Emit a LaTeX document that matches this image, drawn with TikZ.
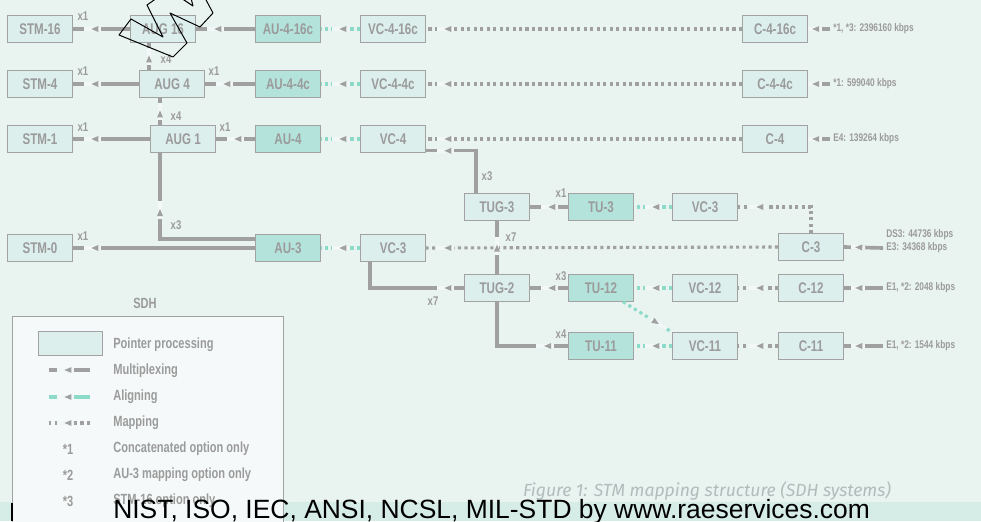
\documentclass[tikz,border=0pt]{standalone}
\usepackage{fontspec}
\usetikzlibrary{arrows.meta,positioning,calc,decorations.markings}
\newfontfamily\condfont[FakeStretch=0.75]{Liberation Sans}
\newfontfamily\capfont{Fira Sans}
\newfontfamily\bandfont{Liberation Sans}
\definecolor{bgcol}{RGB}{233,244,241}
\definecolor{boxfill}{RGB}{220,239,236}
\definecolor{ptrfill}{RGB}{180,227,219}
\definecolor{boxline}{RGB}{162,162,162}
\definecolor{txtgray}{RGB}{155,155,155}
\definecolor{linegray}{RGB}{160,160,160}
\definecolor{tealline}{RGB}{140,218,200}
\definecolor{gapcol}{RGB}{242,248,247}
\definecolor{keyfill}{RGB}{246,249,249}
\definecolor{bandcol}{RGB}{214,236,231}
\definecolor{capgray}{RGB}{178,188,188}
\newcommand\nodefont{\condfont\bfseries\fontsize{11}{13}\selectfont}
\newcommand\multfont{\condfont\bfseries\fontsize{9}{10}\selectfont}
\newcommand\ratefont{\condfont\bfseries\fontsize{7.9}{9}\selectfont}
\newcommand\keyfont{\condfont\bfseries\fontsize{10.5}{12}\selectfont}
\newcommand\tipmark{%
  \fill[gapcol] (-7pt,-1.3pt) rectangle (5.5pt,1.3pt);
  \fill[linegray] (0pt,0pt) -- (-5pt,2.1pt) -- (-5pt,-2.1pt) -- cycle;}
\newcommand\intipmark{%
  \fill[gapcol] (-7pt,-1.5pt) rectangle (2.9pt,1.5pt);
  \fill[linegray] (0pt,0pt) -- (-5pt,2.1pt) -- (-5pt,-2.1pt) -- cycle;}

\begin{document}
\begin{tikzpicture}[
  x=0.025cm, y=-0.025cm,
  box/.style={rectangle, draw=boxline, fill=boxfill, line width=0.8pt,
              minimum width=1.62cm, minimum height=0.66cm, inner sep=0pt,
              font=\nodefont, text=txtgray},
  ptrbox/.style={box, fill=ptrfill},
  mult/.style={font=\multfont, text=txtgray, inner sep=0pt},
  rate/.style={font=\ratefont, text=txtgray, anchor=west, inner sep=0pt},
  keytext/.style={font=\keyfont, text=txtgray, anchor=west, inner sep=0pt},
  mux/.style={draw=linegray, line width=2.2pt,
              postaction={decorate, decoration={markings,
                mark=at position #1 with {\tipmark}}}},
  mux/.default=-13pt,
  feed/.style={draw=linegray, line width=2.6pt,
              postaction={decorate, decoration={markings,
                mark=at position #1 with {\intipmark}}}},
  feed/.default=-3pt,
  aligning/.style={draw=tealline, line width=2.2pt, dash pattern=on 2.2pt off 2.4pt,
              postaction={decorate, decoration={markings,
                mark=at position #1 with {\tipmark}}}},
  aligning/.default=-13pt,
  mapping/.style={draw=linegray, line width=2.2pt, dash pattern=on 2.2pt off 2.4pt,
              postaction={decorate, decoration={markings,
                mark=at position #1 with {\tipmark}}}},
  mapping/.default=-13pt,
]
  \fill[bgcol] (0,0) rectangle (981,521);
  \useasboundingbox (0,0) rectangle (981,521);

  % ===== STM-N rows =====
  \node[box] (stm16) at (40,29)  {STM-16};
  \node[box] (aug16) at (163,29) {AUG 16};
  \node[ptrbox] (au416) at (288,29) {AU-4-16c};
  \node[box] (vc416) at (393,29) {VC-4-16c};
  \node[box] (c416)  at (775,29) {C-4-16c};

  \node[box] (stm4) at (40,84)  {STM-4};
  \node[box] (aug4) at (172,84) {AUG 4};
  \node[ptrbox] (au44) at (288,84) {AU-4-4c};
  \node[box] (vc44) at (393,84) {VC-4-4c};
  \node[box] (c44)  at (775,84) {C-4-4c};

  \node[box] (stm1) at (40,139)  {STM-1};
  \node[box] (aug1) at (183,139) {AUG 1};
  \node[ptrbox] (au4) at (288,139) {AU-4};
  \node[box] (vc4) at (393,139) {VC-4};
  \node[box] (c4)  at (775,139) {C-4};

  % ===== tributary part =====
  \node[box] (tug3) at (497,207) {TUG-3};
  \node[ptrbox] (tu3) at (601,207) {TU-3};
  \node[box] (vc3b) at (705,207) {VC-3};

  \node[box] (stm0) at (40,248)  {STM-0};
  \node[ptrbox] (au3) at (288,248) {AU-3};
  \node[box] (vc3a) at (393,248) {VC-3};
  \node[box] (c3)  at (811,247) {C-3};

  \node[box] (tug2) at (497,288) {TUG-2};
  \node[ptrbox] (tu12) at (601,288) {TU-12};
  \node[box] (vc12) at (705,288) {VC-12};
  \node[box] (c12)  at (811,288) {C-12};

  \node[ptrbox] (tu11) at (601,346) {TU-11};
  \node[box] (vc11) at (705,346) {VC-11};
  \node[box] (c11)  at (811,346) {C-11};

  % ===== input rates =====
  \node[rate] (r416) at (833,29)  {*1, *3: 2396160 kbps};
  \node[rate] (r44)  at (833,84)  {*1: 599040 kbps};
  \node[rate] (r4)   at (833,139) {E4: 139264 kbps};
  \node[rate] (rds3) at (886,235) {DS3: 44736 kbps};
  \node[rate] (r3)   at (886,248) {E3: 34368 kbps};
  \node[rate] (r12)  at (886,288) {E1, *2: 2048 kbps};
  \node[rate] (r11)  at (886,346) {E1, *2: 1544 kbps};

  % ===== helper points =====
  \coordinate (a4up) at ([xshift=7.1pt]aug4.north west);
  \coordinate (a1up) at ([xshift=7.1pt]aug1.north west);
  \coordinate (a1dn) at ([xshift=7.1pt]aug1.south west);
  \coordinate (a3up) at ([yshift=6.4pt]au3.west);
  \coordinate (t3up) at ([xshift=8.5pt]tug3.north west);
  \coordinate (v4in) at ([yshift=1.4pt]vc4.south east);
  \coordinate (v3dn) at ([xshift=7.1pt]vc3a.south west);
  \coordinate (d12)  at ([xshift=-7.8pt]tu12.south east);

  % ===== row STM-16 =====
  \draw[mux] (aug16.west) -- (stm16.east);
  \draw[mux] (au416.west) -- (aug16.east);
  \draw[aligning] (vc416.west) -- (au416.east);
  \draw[mapping] (c416.west) -- (vc416.east);
  \draw[feed] ([xshift=-2pt]r416.west) -- (c416.east);
  \node[mult] at (83,16) {x1};

  % ===== row STM-4 =====
  \draw[mux=-9pt] (a4up) -- (a4up |- aug16.south);
  \node[mult] at (166,59) {x4};
  \draw[mux] (aug4.west) -- (stm4.east);
  \draw[mux] (au44.west) -- (aug4.east);
  \draw[aligning] (vc44.west) -- (au44.east);
  \draw[mapping] (c44.west) -- (vc44.east);
  \draw[feed] ([xshift=-2pt]r44.west) -- (c44.east);
  \node[mult] at (83,71) {x1};
  \node[mult] at (214,71) {x1};

  % ===== row STM-1 =====
  \draw[mux=-9pt] (a1up) -- (a1up |- aug4.south);
  \node[mult] at (176,116) {x4};
  \draw[mux] (aug1.west) -- (stm1.east);
  \draw[mux] (au4.west) -- (aug1.east);
  \draw[aligning] (vc4.west) -- (au4.east);
  \draw[mapping] (c4.west) -- (vc4.east);
  \draw[feed] ([xshift=-2pt]r4.west) -- (c4.east);
  \node[mult] at (83,127) {x1};
  \node[mult] at (225,127) {x1};
  \draw[mux] (t3up) |- (v4in);
  \node[mult] at (487,176) {x3};

  % ===== TUG-3 / TU-3 =====
  \draw[mux] (tu3.west) -- (tug3.east);
  \node[mult] at (561,193) {x1};
  \draw[aligning] (vc3b.west) -- (tu3.east);
  \draw[mapping] (c3.north) |- (vc3b.east);

  % ===== row STM-0 =====
  \draw[mux=-40pt] (a3up) -| (a1dn);
  \node[mult] at (176,225) {x3};
  \draw[mux] (au3.west) -- (stm0.east);
  \node[mult] at (83,236) {x1};
  \draw[aligning] (vc3a.west) -- (au3.east);
  \draw[mapping] (c3.west) -- (vc3a.east);
  \draw[feed=-8pt] ([xshift=-2pt]r3.west) -- (c3.east);

  % ===== TUG-2 / TU-12 / TU-11 =====
  \draw[mux=14pt] (tug2.west) -| (v3dn);
  \node[mult] at (433,301) {x7};
  \draw[mux=-17pt] (tug2.north) -- (tug3.south);
  \node[mult] at (511,237) {x7};
  \draw[mux] (tu12.west) -- (tug2.east);
  \node[mult] at (561,276) {x3};
  \draw[aligning] (vc12.west) -- (tu12.east);
  \draw[mapping] (c12.west) -- (vc12.east);
  \draw[feed=-8pt] ([xshift=-2pt]r12.west) -- (c12.east);
  \draw[mux=17pt] (tu11.west) -| (tug2.south);
  \node[mult] at (561,334) {x4};
  \draw[aligning] (vc11.west) -- (tu11.east);
  \draw[mapping] (c11.west) -- (vc11.east);
  \draw[feed=-8pt] ([xshift=-2pt]r11.west) -- (c11.east);
  \draw[aligning=-11pt] (d12) -- (vc11.north west);

  % ===== caption and band =====
  \node[font=\capfont\itshape\fontsize{12.5}{14}\selectfont, text=capgray, inner sep=0pt]
       (caption) at (707,491) {Figure 1: STM mapping structure (SDH systems)};
  \fill[bandcol] (0,502) rectangle (981,521);

  % ===== legend =====
  \node[keytext, anchor=center] (sdh) at (145,303) {SDH};
  \node[draw=boxline, fill=keyfill, line width=0.8pt, anchor=north west,
        minimum width=6.775cm, minimum height=5.6cm, inner sep=0pt] (legend) at (12,316) {};
  \node[box, minimum width=1.62cm, minimum height=0.62cm] (keyptr) at (70.5,343.5) {};
  \node[keytext] (kptr) at (113,345) {Pointer processing};
  \node[keytext] (kmux) at (113,371) {Multiplexing};
  \node[keytext] (kali) at (113,397) {Aligning};
  \node[keytext] (kmap) at (113,423) {Mapping};
  \node[keytext] (kone) at (113,449) {Concatenated option only};
  \node[keytext] (ktwo) at (113,475) {AU-3 mapping option only};
  \node[keytext] (kthr) at (113,501) {STM-16 option only};
  \node[keytext, anchor=center] (sone) at (68,449) {*1};
  \node[keytext, anchor=center] (stwo) at (68,475) {*2};
  \node[keytext, anchor=center] (sthr) at (68,501) {*3};
  \coordinate (m1) at (90,370);  \coordinate (m0) at (49,370);
  \coordinate (l1) at (90,397);  \coordinate (l0) at (49,397);
  \coordinate (p1) at (90,423);  \coordinate (p0) at (49,423);
  \draw[mux=-11pt] (m1) -- (m0);
  \draw[aligning=-11pt, solid] (l1) -- (l0);
  \draw[mapping=-11pt] (p1) -- (p0);

  % ===== watermark outline =====
  \draw[black, line width=0.7pt, line join=round]
    (157,-2) -- (147,5) -- (163,37) -- (131,19) -- (119,35) -- (173,57)
    -- (187,43) -- (170,13) -- (200,27) -- (213,13) -- (205,-2);
  \draw[black, line width=0.7pt, line join=round]
    (181,-2) -- (193,6) -- (191,-2);

  % ===== footer =====
  \node[font=\bandfont\fontsize{18.8}{20}\selectfont, text=black, anchor=base west,
        inner sep=0pt] (footer) at (113,518)
       {NIST, ISO, IEC, ANSI, NCSL, MIL-STD by www.raeservices.com};
  \draw[black, line width=0.9pt] (12,503) -- (12,521);
\end{tikzpicture}
\end{document}
